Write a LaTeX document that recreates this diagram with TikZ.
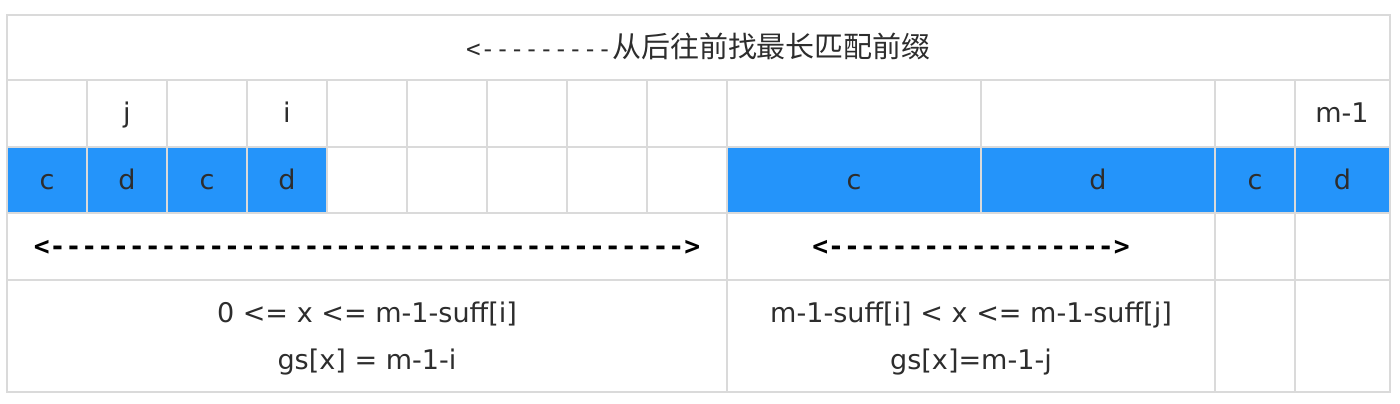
\documentclass[tikz,border=0pt]{standalone}
\usepackage{fontspec}
\usepackage{xcolor}
\setmainfont{DejaVu Sans}
\newfontfamily\cjkfont{Noto Sans CJK SC}
\newfontfamily\dashfont[Ligatures=TeXOff]{DejaVu Sans Mono}

\definecolor{cellblue}{RGB}{36,148,250}
\definecolor{gridgray}{RGB}{218,218,218}
\definecolor{txtgray}{RGB}{45,45,45}

\tikzset{
  grid line/.style={draw=gridgray,line width=1.1pt},
  lbl/.style={anchor=base,inner sep=0pt,text=txtgray,font=\fontsize{15.4}{18}\selectfont},
  arrowtxt/.style={anchor=base,inner sep=0pt,text=black,font=\dashfont\bfseries\fontsize{15}{18}\selectfont}
}

\begin{document}
\begin{tikzpicture}[x=0.02cm,y=-0.02cm]
\useasboundingbox (0,0) rectangle (1400,404) ;

% blue cells
\fill[cellblue] (7,147) rectangle (327,213) ;
\fill[cellblue] (727,147) rectangle (1390,213) ;

% table frame and rows
\draw[grid line] (7,15) rectangle (1390,392) ;
\draw[grid line] (7,80) -- (1390,80) ;
\draw[grid line] (7,147) -- (1390,147) ;
\draw[grid line] (7,213) -- (1390,213) ;
\draw[grid line] (7,280) -- (1390,280) ;

% columns of the index and text rows
\foreach \x in {87,167,247,327,407,487,567,647,727,981,1215,1295}
  \draw[grid line] (\x,80) -- (\x,213) ;
\foreach \x in {727,1215,1295}
  \draw[grid line] (\x,213) -- (\x,392) ;

% title
\node[anchor=base,inner sep=0pt,text=txtgray] (title) at (698.5,58)
  {{\dashfont\fontsize{13.8}{16}\selectfont <---------}{\cjkfont\fontsize{16.5}{19}\selectfont 从后往前找最长匹配前缀}} ;

% index row
\node[lbl] (idxj) at (127,123) {j} ;
\node[lbl] (idxi) at (287,123) {i} ;
\node[lbl] (idxm) at (1342,123) {m-1} ;

% pattern row
\node[lbl] (c1) at (47,190) {c} ;
\node[lbl] (d1) at (127,190) {d} ;
\node[lbl] (c2) at (207,190) {c} ;
\node[lbl] (d2) at (287,190) {d} ;
\node[lbl] (c3) at (854,190) {c} ;
\node[lbl] (d3) at (1098,190) {d} ;
\node[lbl] (c4) at (1255,190) {c} ;
\node[lbl] (d4) at (1342.5,190) {d} ;

% ranges
\node[arrowtxt] (arrL) at (367,256) {<---------------------------------------->} ;
\node[arrowtxt] (arrR) at (971,256) {<------------------>} ;

\node[lbl] (rangeL) at (367,323) {0 <= x <= m-1-suff[i]} ;
\node[lbl] (gsL) at (367,370) {gs[x] = m-1-i} ;
\node[lbl] (rangeR) at (971,323) {m-1-suff[i] < x <= m-1-suff[j]} ;
\node[lbl] (gsR) at (971,370) {gs[x]=m-1-j} ;

\end{tikzpicture}
\end{document}
